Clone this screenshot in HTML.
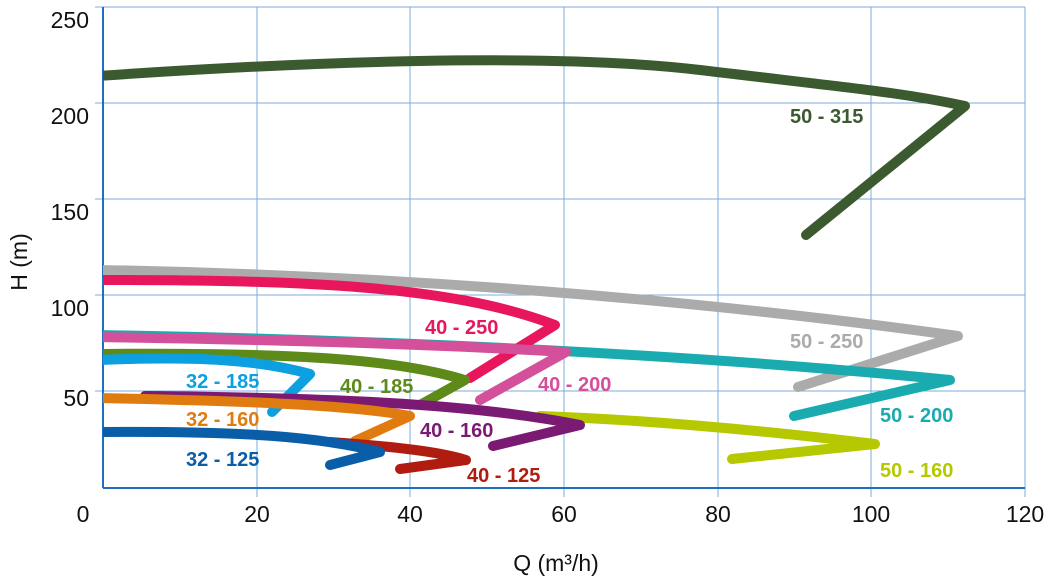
<!DOCTYPE html>
<html><head><meta charset="utf-8"><style>
html,body{margin:0;padding:0;background:#fff;}
svg{display:block;font-family:"Liberation Sans",sans-serif;}
.g{stroke:#4f8fd0;stroke-width:1;opacity:0.75}
.c{fill:none;stroke-width:10;stroke-linecap:round;stroke-linejoin:round}
.l{font-size:20px;font-weight:bold}
.t{font-size:23px;fill:#111}
</style></head><body>
<svg width="1061" height="579" viewBox="0 0 1061 579">
<defs><clipPath id="cp"><rect x="103" y="0" width="958" height="579"/></clipPath></defs>
<g class="g">
<line x1="257" y1="7" x2="257" y2="497"/><line x1="410" y1="7" x2="410" y2="497"/>
<line x1="564" y1="7" x2="564" y2="497"/><line x1="718" y1="7" x2="718" y2="497"/>
<line x1="871" y1="7" x2="871" y2="497"/><line x1="1025" y1="7" x2="1025" y2="497"/>
<line x1="95" y1="7" x2="1025" y2="7"/><line x1="95" y1="103" x2="1025" y2="103"/>
<line x1="95" y1="199" x2="1025" y2="199"/><line x1="95" y1="295" x2="1025" y2="295"/>
<line x1="95" y1="391" x2="1025" y2="391"/>
</g>
<line x1="103" y1="7" x2="103" y2="488" stroke="#1f6fc0" stroke-width="2"/>
<line x1="103" y1="488" x2="1025" y2="488" stroke="#1f6fc0" stroke-width="2"/>
<g class="t" text-anchor="end">
<text x="89" y="28">250</text><text x="89" y="124">200</text><text x="89" y="220">150</text>
<text x="89" y="316">100</text><text x="89" y="406">50</text>
</g>
<g class="t" text-anchor="middle">
<text x="83" y="522">0</text><text x="257" y="522">20</text><text x="410" y="522">40</text>
<text x="564" y="522">60</text><text x="718" y="522">80</text><text x="871" y="522">100</text><text x="1025" y="522">120</text>
<text x="556" y="571">Q (m³/h)</text>
</g>
<text class="t" transform="translate(27,262) rotate(-90)" text-anchor="middle">H (m)</text>

<g clip-path="url(#cp)">
<path class="c" stroke="#3c5a2f" d="M98,76 C300,62 550,52 700,70 S900,92 965,106 L806,235"/>
<path class="c" stroke="#ababab" d="M98,270 C400,275 700,300 958,336 L798,387"/>
<path class="c" stroke="#1aabb0" d="M98,335 C400,340 700,355 950,380 L794,416"/>
<path class="c" stroke="#b5c800" d="M540,416 C650,420 760,430 875,444 L732,459"/>
<path class="c" stroke="#e8175d" d="M98,280 C300,280 450,285 555,325 L470,378"/>
<path class="c" stroke="#d4509a" d="M98,337 C300,340 450,345 566,352 L480,400"/>
<path class="c" stroke="#5e8a1a" d="M98,354 C300,352 400,360 465,380 L420,405"/>
<path class="c" stroke="#0ca0e0" d="M98,360 C200,356 260,360 310,374 L272,412"/>
<path class="c" stroke="#7b1a72" d="M145,396 C350,398 480,405 580,425 L493,446"/>
<path class="c" stroke="#e07b10" d="M98,398 C250,401 350,405 410,416 L355,441"/>
<path class="c" stroke="#b01c10" d="M330,442 C400,447 440,452 466,460 L400,469"/>
<path class="c" stroke="#0a5ea8" d="M98,432 C250,431 320,437 380,452 L330,465"/>
</g>

<text class="l" x="790" y="123" fill="#3c5a2f">50 - 315</text>
<text class="l" x="790" y="348" fill="#ababab">50 - 250</text>
<text class="l" x="880" y="422" fill="#1aabb0">50 - 200</text>
<text class="l" x="880" y="477" fill="#b5c800">50 - 160</text>
<text class="l" x="425" y="334" fill="#e8175d">40 - 250</text>
<text class="l" x="538" y="391" fill="#d4509a">40 - 200</text>
<text class="l" x="340" y="393" fill="#5e8a1a">40 - 185</text>
<text class="l" x="186" y="388" fill="#0ca0e0">32 - 185</text>
<text class="l" x="186" y="426" fill="#e07b10">32 - 160</text>
<text class="l" x="420" y="437" fill="#7b1a72">40 - 160</text>
<text class="l" x="186" y="466" fill="#0a5ea8">32 - 125</text>
<text class="l" x="467" y="482" fill="#b01c10">40 - 125</text>
</svg>
</body></html>
